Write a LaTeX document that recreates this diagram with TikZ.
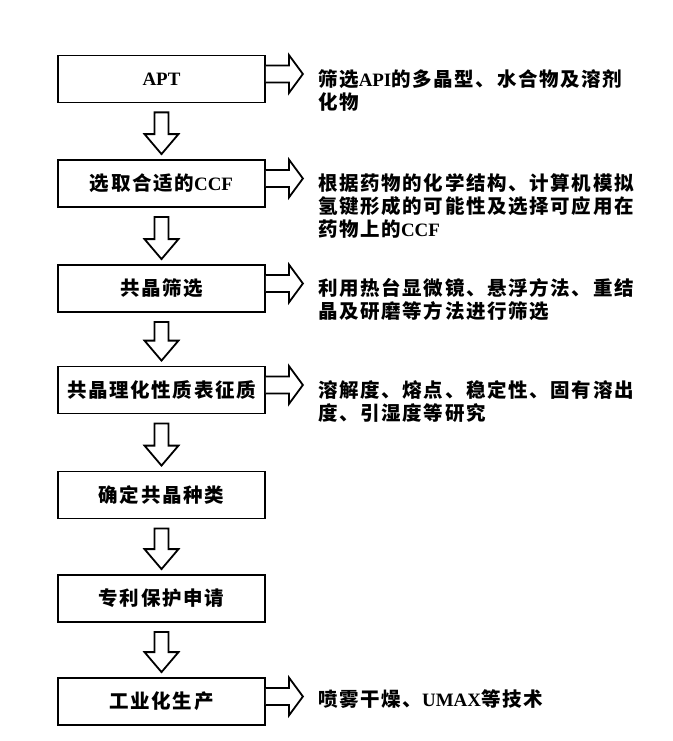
\documentclass[tikz,border=0pt]{standalone}
\usepackage{fontspec}
\usetikzlibrary{calc}
\newfontfamily\cjk{Noto Sans CJK SC}[LetterSpace=8.5]
\newfontfamily\lat{Liberation Serif}[Scale=0.97]
\newcommand{\la}[1]{{\lat #1}}

\tikzset{
  stage/.style={draw, line width=1.8pt, minimum width=207pt, minimum height=47pt, inner sep=0pt,
    font=\cjk\bfseries\fontsize{19.5}{23.5}\selectfont},
  note/.style={anchor=north west, align=left, inner sep=0pt,
    font=\cjk\bfseries\fontsize{19.5}{23}\selectfont},
  hollow/.style={draw, line width=1.8pt, line join=miter, fill=white},
}

\begin{document}
\begin{tikzpicture}[x=1pt, y=-1pt]
    \useasboundingbox (0,0) rectangle (672,741);

    % Stages of the flow
    \node[stage] (apt)    at (161.5,79)    {\la{APT}};
    \node[stage] (ccf)    at (161.5,183.5) {选取合适的\la{CCF}};
    \node[stage] (screen) at (161.5,288.5) {共晶筛选};
    \node[stage] (props)  at (161.5,390)   {共晶理化性质表征质};
    \node[stage] (kind)   at (161.5,495)   {确定共晶种类};
    \node[stage] (patent) at (161.5,598.5) {专利保护申请};
    \node[stage] (prod)   at (161.5,701.5) {工业化生产};

    % Notes on the right
    \node[note] (napt)    at ($(apt.east)+(52,-10)$)    {筛选\la{API}的多晶型、水合物及溶剂\\化物};
    \node[note] (nccf)    at ($(ccf.east)+(52,-10)$)    {根据药物的化学结构、计算机模拟\\氢键形成的可能性及选择可应用在\\药物上的\la{CCF}};
    \node[note] (nscreen) at ($(screen.east)+(52,-10)$) {利用热台显微镜、悬浮方法、重结\\晶及研磨等方法进行筛选};
    \node[note] (nprops)  at ($(props.east)+(52,-10)$)  {溶解度、熔点、稳定性、固有溶出\\度、引湿度等研究};
    \node[note] (nprod)   at ($(prod.east)+(52,-12)$)   {喷雾干燥、\la{UMAX}等技术};

    % Hollow arrows down the column
    \foreach \a/\b in {apt/ccf, ccf/screen, screen/props, props/kind, kind/patent, patent/prod} {
        \draw[hollow] ($(\a.south)+(-7,9)$) -- ($(\b.north)+(-7,-25)$) -- ++(-10,0)
            -- ($(\b.north)+(0,-5)$) -- ($(\b.north)+(17,-25)$) -- ++(-10,0)
            -- ($(\a.south)+(7,9)$) -- cycle;
    }

    % Hollow arrows to the notes
    \foreach \b in {apt, ccf, screen, props, prod} {
        \draw[hollow] ($(\b.east)+(0,-13.5)$) -- ++(23,0) -- ++(0,-10.5) -- ++(14,19)
            -- ++(-14,19) -- ++(0,-10.5) -- ++(-23,0);
    }
\end{tikzpicture}
\end{document}
